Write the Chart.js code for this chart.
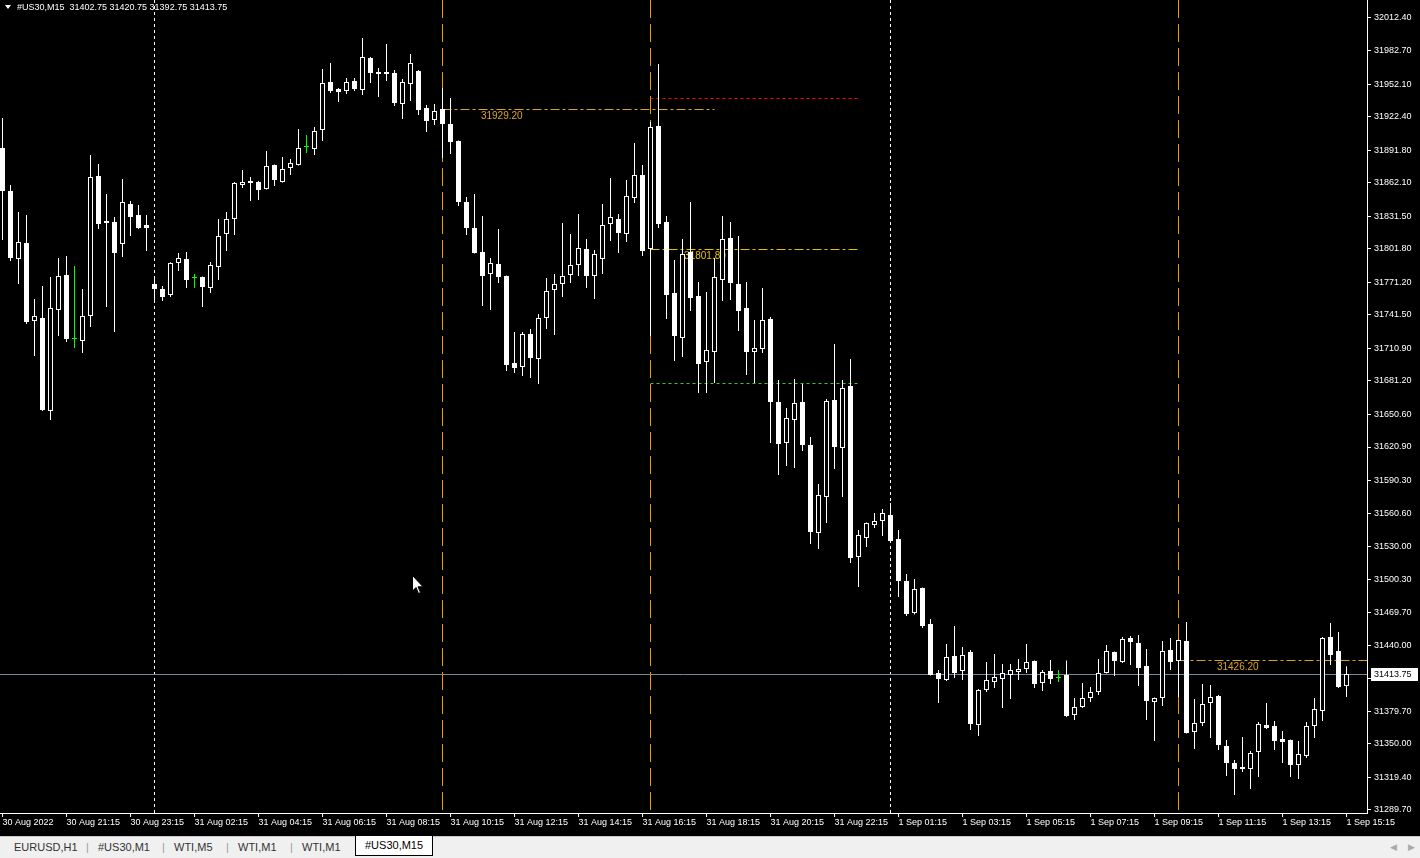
<!DOCTYPE html>
<html>
<head>
<meta charset="utf-8">
<title>#US30,M15</title>
<script src="https://cdn.jsdelivr.net/npm/chart.js@4.4.0/dist/chart.umd.min.js"></script>
<style>
  html, body { margin:0; padding:0; width:1420px; height:858px; overflow:hidden; background:#000;
    font-family:"Liberation Sans", Arial, sans-serif; }
  #wrap { position:relative; width:1420px; height:836px; background:#000; }
  #header { position:absolute; left:5px; top:2px; color:#fff; font-size:9px; line-height:11px; white-space:pre; pointer-events:none; }
  #header .tri { display:inline-block; width:0; height:0; border-left:3px solid transparent; border-right:3px solid transparent;
    border-top:4px solid #fff; margin-right:6px; vertical-align:1px; }
  #cursor { position:absolute; left:412px; top:575px; }
  #tabs { position:absolute; left:0; top:836px; width:1420px; height:22px; background:#f0f0f0; border-top:1px solid #c8c8c8;
    font-size:11px; color:#333; }
  #tabs span { position:absolute; top:4px; }
  #tabs .sep { color:#999; }
  #tabs .active { top:-1px; height:19px; line-height:19px; padding:0 9px; background:#fff; border:1px solid #000; border-top:none; color:#000; }
  #tabs .arr { color:#aaa; font-size:9px; top:5px; }
</style>
</head>
<body>
<div id="wrap">
  <canvas id="chart"></canvas>
  <div id="header"><span class="tri"></span>#US30,M15  31402.75 31420.75 31392.75 31413.75</div>
  <svg id="cursor" width="12" height="20" viewBox="0 0 12 20">
    <path d="M0.5 0.5 L0.5 16 L4 12.5 L6.5 18.5 L8.5 17.5 L6 11.8 L11 11.8 Z" fill="#fff" stroke="#000" stroke-width="1"/>
  </svg>
</div>
<div id="tabs">
  <span style="left:14px">EURUSD,H1</span><span class="sep" style="left:86px">|</span>
  <span style="left:98px">#US30,M1</span><span class="sep" style="left:162px">|</span>
  <span style="left:174px">WTI,M5</span><span class="sep" style="left:226px">|</span>
  <span style="left:238px">WTI,M1</span><span class="sep" style="left:290px">|</span>
  <span style="left:302px">WTI,M1</span>
  <span class="active" style="left:355px">#US30,M15</span>
  <span class="arr" style="left:1390px">&#9664;</span><span class="arr" style="left:1408px">&#9654;</span>
</div>

<script>
// M15 candles, 30 Aug 2022 19:15 .. 1 Sep 2022 15:15
const opens = [
  31893.8, 31854.5, 31792.5, 31807.1, 31735.9, 31738.6, 31653.8, 31745.9, 31777.9, 31719.5,
  31717.6, 31740.5, 31868.2, 31827.1, 31826.2, 31806.2, 31842.7, 31832.6, 31823.5, 31769.7,
  31765.1, 31759.6, 31788.8, 31792.5, 31775.1, 31776.0, 31766.0, 31785.2, 31815.3, 31829.0,
  31860.0, 31861.8, 31862.7, 31856.3, 31878.2, 31862.7, 31875.5, 31878.2, 31894.7, 31892.8,
  31910.2, 31954.0, 31947.6, 31945.8, 31954.9, 31946.7, 31975.9, 31963.1, 31963.1, 31962.2,
  31933.9, 31952.2, 31964.0, 31930.3, 31919.3, 31929.3, 31915.6, 31900.1, 31844.5, 31820.8,
  31798.9, 31778.8, 31787.9, 31777.0, 31697.6, 31693.9, 31724.0, 31701.2, 31738.6, 31764.2,
  31769.7, 31777.9, 31787.0, 31801.6, 31777.0, 31792.5, 31824.4, 31829.0, 31815.3, 31848.1,
  31869.1, 31801.6, 31913.8, 31826.2, 31761.4, 31720.4, 31798.9, 31758.7, 31698.5, 31707.6,
  31773.3, 31811.6, 31769.7, 31747.8, 31707.6, 31710.3, 31737.7, 31662.0, 31624.6, 31645.6,
  31662.0, 31622.7, 31542.4, 31575.3, 31663.8, 31620.0, 31676.6, 31520.5, 31537.9, 31549.7,
  31553.4, 31558.9, 31537.0, 31498.6, 31469.4, 31492.3, 31459.4, 31414.7, 31408.3, 31430.2,
  31416.5, 31433.9, 31367.2, 31399.2, 31406.5, 31409.2, 31412.9, 31415.6, 31418.3, 31425.6,
  31405.6, 31416.5, 31410.1, 31412.9, 31376.4, 31383.7, 31391.9, 31397.4, 31414.7, 31433.9,
  31424.7, 31446.6, 31442.1, 31421.1, 31388.2, 31391.9, 31435.7, 31425.6, 31443.9, 31360.9,
  31369.1, 31387.3, 31393.7, 31348.1, 31332.6, 31328.9, 31327.1, 31342.6, 31367.2, 31366.3,
  31354.5, 31353.6, 31330.7, 31339.0, 31366.3, 31380.0, 31447.5, 31434.8, 31402.75
];
const highs = [
  31921.1, 31860.0, 31835.4, 31832.6, 31756.0, 31767.8, 31776.0, 31793.4, 31795.2, 31786.1,
  31765.1, 31887.4, 31879.2, 31851.8, 31830.8, 31865.5, 31845.4, 31841.7, 31832.6, 31774.2,
  31767.8, 31789.5, 31797.9, 31798.9, 31778.8, 31776.5, 31789.7, 31829.0, 31835.4, 31862.7,
  31873.7, 31867.3, 31863.6, 31891.0, 31878.7, 31885.5, 31883.7, 31911.1, 31905.6, 31912.9,
  31965.8, 31971.3, 31948.5, 31957.6, 31957.6, 31994.1, 31976.8, 31966.8, 31988.6, 31964.9,
  31956.7, 31979.5, 31964.9, 31933.0, 31933.9, 31948.5, 31939.4, 31900.5, 31849.0, 31851.8,
  31831.7, 31793.4, 31819.8, 31777.5, 31725.9, 31725.9, 31728.6, 31742.3, 31775.1, 31778.8,
  31825.3, 31815.3, 31833.5, 31810.7, 31800.7, 31842.7, 31866.4, 31833.5, 31864.6, 31898.3,
  31878.2, 31917.5, 31970.4, 31831.7, 31791.6, 31810.7, 31844.5, 31771.5, 31762.4, 31793.4,
  31831.7, 31826.2, 31813.5, 31771.5, 31736.8, 31766.0, 31739.5, 31682.1, 31656.5, 31683.0,
  31678.4, 31630.0, 31587.2, 31664.7, 31714.9, 31682.1, 31701.2, 31545.2, 31552.0, 31560.7,
  31564.3, 31569.8, 31545.2, 31505.0, 31500.5, 31492.8, 31464.0, 31417.4, 31441.2, 31457.6,
  31438.4, 31435.7, 31400.1, 31424.7, 31432.0, 31422.9, 31422.9, 31427.5, 31441.2, 31426.1,
  31417.4, 31426.5, 31417.4, 31426.1, 31391.9, 31405.6, 31401.9, 31427.5, 31440.2, 31434.4,
  31447.5, 31448.5, 31449.4, 31436.6, 31392.4, 31443.9, 31446.6, 31445.3, 31461.2, 31391.0,
  31404.7, 31403.7, 31394.6, 31353.6, 31335.3, 31356.3, 31343.5, 31370.0, 31387.3, 31370.9,
  31361.8, 31354.1, 31352.6, 31370.0, 31391.9, 31447.5, 31460.3, 31452.1, 31420.75
];
const lows = [
  31809.8, 31790.6, 31769.7, 31733.2, 31704.0, 31653.8, 31645.6, 31722.2, 31716.7, 31711.3,
  31706.7, 31730.4, 31819.8, 31748.7, 31725.9, 31794.3, 31813.5, 31819.8, 31799.8, 31753.2,
  31754.1, 31757.8, 31781.5, 31766.0, 31766.0, 31748.7, 31761.4, 31773.3, 31799.8, 31814.4,
  31857.3, 31845.4, 31846.3, 31855.8, 31859.1, 31862.2, 31869.1, 31877.7, 31889.2, 31887.4,
  31900.1, 31943.9, 31935.7, 31943.0, 31945.8, 31942.1, 31953.1, 31940.3, 31954.9, 31932.1,
  31920.2, 31936.6, 31923.9, 31908.4, 31914.7, 31884.6, 31888.3, 31840.8, 31814.4, 31797.4,
  31749.6, 31745.9, 31770.6, 31690.3, 31688.4, 31685.7, 31683.9, 31678.4, 31728.6, 31723.1,
  31757.8, 31770.6, 31777.0, 31766.0, 31756.0, 31778.8, 31808.9, 31797.9, 31808.0, 31843.6,
  31795.2, 31722.2, 31820.8, 31737.7, 31699.4, 31703.0, 31745.0, 31670.2, 31670.2, 31679.3,
  31754.1, 31755.1, 31726.8, 31686.6, 31679.3, 31706.7, 31624.6, 31595.4, 31603.6, 31601.8,
  31617.3, 31532.4, 31527.8, 31551.6, 31600.8, 31575.3, 31515.1, 31493.2, 31529.7, 31547.0,
  31539.7, 31534.6, 31484.0, 31466.7, 31468.0, 31455.8, 31412.4, 31387.3, 31407.4, 31410.1,
  31408.3, 31362.7, 31357.2, 31397.4, 31401.0, 31382.8, 31391.0, 31408.3, 31414.7, 31401.0,
  31398.3, 31404.7, 31406.5, 31374.5, 31371.8, 31382.8, 31388.2, 31394.6, 31414.2, 31412.0,
  31423.8, 31422.0, 31402.8, 31371.8, 31352.6, 31384.6, 31417.4, 31392.8, 31359.4, 31345.3,
  31366.3, 31355.4, 31344.4, 31320.7, 31303.4, 31324.4, 31308.8, 31319.8, 31363.6, 31344.4,
  31332.6, 31319.8, 31318.0, 31337.1, 31355.4, 31370.9, 31422.0, 31401.0, 31392.75
];
const closes = [
  31854.5, 31793.4, 31808.0, 31735.0, 31740.5, 31654.7, 31747.8, 31777.0, 31719.5, 31719.5,
  31740.5, 31867.3, 31824.4, 31825.3, 31797.9, 31844.5, 31830.8, 31820.8, 31820.8, 31765.1,
  31757.8, 31788.8, 31793.4, 31773.3, 31775.1, 31766.9, 31787.0, 31813.5, 31829.0, 31861.8,
  31862.7, 31863.6, 31855.4, 31877.3, 31864.6, 31874.6, 31880.1, 31893.8, 31894.7, 31909.3,
  31953.1, 31945.8, 31944.9, 31954.0, 31947.6, 31976.8, 31962.2, 31961.3, 31961.3, 31934.8,
  31954.0, 31971.3, 31928.4, 31918.4, 31927.5, 31915.6, 31899.2, 31844.5, 31820.8, 31797.9,
  31777.0, 31788.8, 31776.0, 31695.7, 31693.0, 31724.0, 31702.1, 31738.6, 31763.3, 31769.7,
  31777.0, 31787.0, 31802.5, 31777.0, 31797.0, 31823.5, 31830.8, 31816.2, 31850.0, 31869.1,
  31799.8, 31912.9, 31824.4, 31759.6, 31722.2, 31797.0, 31756.9, 31696.7, 31709.4, 31776.0,
  31810.7, 31770.6, 31745.0, 31707.6, 31711.3, 31736.8, 31662.0, 31623.7, 31647.4, 31661.1,
  31622.7, 31543.4, 31577.1, 31662.9, 31620.9, 31674.8, 31519.6, 31540.6, 31551.6, 31553.4,
  31560.7, 31535.1, 31498.6, 31468.5, 31491.3, 31457.6, 31412.9, 31409.2, 31429.3, 31414.7,
  31431.1, 31368.2, 31399.2, 31408.3, 31411.0, 31414.7, 31417.4, 31418.3, 31424.7, 31404.7,
  31415.6, 31409.2, 31410.1, 31375.5, 31383.7, 31391.9, 31397.4, 31414.7, 31434.8, 31425.6,
  31445.7, 31443.0, 31419.3, 31389.1, 31391.9, 31434.8, 31424.7, 31444.8, 31359.9, 31369.1,
  31386.4, 31392.8, 31349.0, 31332.6, 31327.1, 31327.1, 31341.7, 31368.2, 31364.5, 31352.6,
  31351.7, 31330.7, 31340.8, 31366.3, 31381.8, 31446.6, 31431.1, 31401.9, 31413.75
];

// time labels, one every 8 bars
const xLabels = ['30 Aug 2022', '30 Aug 21:15', '30 Aug 23:15', '31 Aug 02:15', '31 Aug 04:15', '31 Aug 06:15',
  '31 Aug 08:15', '31 Aug 10:15', '31 Aug 12:15', '31 Aug 14:15', '31 Aug 16:15', '31 Aug 18:15',
  '31 Aug 20:15', '31 Aug 22:15', '1 Sep 01:15', '1 Sep 03:15', '1 Sep 05:15', '1 Sep 07:15',
  '1 Sep 09:15', '1 Sep 11:15', '1 Sep 13:15', '1 Sep 15:15'];
const xTickIdx = xLabels.map((_, i) => i * 8);

// price scale labels
const yTicks = [32012.40, 31982.70, 31952.10, 31922.40, 31891.80, 31862.10, 31831.50, 31801.80, 31771.20,
  31741.50, 31710.90, 31681.20, 31650.60, 31620.90, 31590.30, 31560.60, 31530.00, 31500.30, 31469.70,
  31440.00, 31409.40, 31379.70, 31350.00, 31319.40, 31289.70];

const priceMin = 31286.94, priceMax = 32028.80;

// objects on the chart (bar index / price)
const vLines = [
  { k: 19, color: '#ffffff', dash: [3, 3] },
  { k: 55, color: '#e8a000', dash: [18, 6] },
  { k: 81, color: '#e8a000', dash: [18, 6] },
  { k: 111, color: '#ffffff', dash: [3, 3] },
  { k: 147, color: '#e8a000', dash: [18, 6] }
];
const hLines = [
  { price: 31929.20, from: 55, to: 89, color: '#daa520', dash: [9, 3, 3, 3], label: '31929.20', labelAt: 59.8 },
  { price: 31939.40, from: 81, to: 107, color: '#ff0000', dash: [3, 3] },
  { price: 31801.80, from: 81, to: 107, color: '#e8c000', dash: [9, 3, 3, 3], label: '31801.80', labelAt: 85.2 },
  { price: 31679.30, from: 81, to: 107, color: '#32cd32', dash: [3, 3] },
  { price: 31426.20, from: 147, to: 171, color: '#daa520', dash: [9, 3, 3, 3], label: '31426.20', labelAt: 151.8 }
];

const GREEN = '#00ff00';
const idx = opens.map((_, i) => i);
const doji = i => opens[i] === closes[i];
const bull = i => closes[i] > opens[i];

const fmt = v => v.toFixed(2);

// chart objects, drawn behind the candles; bid label on top
const overlay = {
  id: 'overlay',
  beforeDatasetsDraw(chart) {
    const { ctx, chartArea: a, scales: { x, y } } = chart;
    ctx.save();
    ctx.beginPath();
    ctx.rect(a.left, a.top, a.right - a.left, a.bottom - a.top);
    ctx.clip();
    ctx.lineWidth = 1;
    vLines.forEach(l => {
      const px = Math.floor(x.getPixelForValue(l.k)) + 0.5;
      ctx.strokeStyle = l.color;
      ctx.setLineDash(l.dash);
      ctx.beginPath(); ctx.moveTo(px, a.top); ctx.lineTo(px, a.bottom); ctx.stroke();
    });
    ctx.font = '10px "Liberation Sans", Arial, sans-serif';
    ctx.textBaseline = 'top';
    hLines.forEach(l => {
      const py = Math.round(y.getPixelForValue(l.price)) + 0.5;
      const x0 = Math.floor(x.getPixelForValue(l.from)) + 0.5;
      const x1 = Math.min(a.right, x.getPixelForValue(l.to));
      ctx.strokeStyle = l.color;
      ctx.setLineDash(l.dash);
      ctx.beginPath(); ctx.moveTo(x0, py); ctx.lineTo(x1, py); ctx.stroke();
      if (l.label) {
        ctx.fillStyle = l.color;
        ctx.fillText(l.label, x.getPixelForValue(l.labelAt), py + 1.5);
      }
    });
    // bid line
    const last = closes[closes.length - 1];
    const by = Math.round(y.getPixelForValue(last)) + 0.5;
    ctx.setLineDash([]);
    ctx.strokeStyle = '#778899';
    ctx.beginPath(); ctx.moveTo(a.left, by); ctx.lineTo(a.right, by); ctx.stroke();
    ctx.restore();
  },
  afterDraw(chart) {
    const { ctx, chartArea: a, scales: { y } } = chart;
    const last = closes[closes.length - 1];
    const by = Math.round(y.getPixelForValue(last));
    ctx.save();
    ctx.fillStyle = '#fff';
    ctx.fillRect(a.right + 4, by - 6, 47, 13);
    ctx.fillStyle = '#000';
    ctx.font = '9px "Liberation Sans", Arial, sans-serif';
    ctx.textBaseline = 'middle';
    ctx.fillText(fmt(last), a.right + 7, by + 0.5);
    ctx.restore();
  }
};

Chart.defaults.font.family = '"Liberation Sans", Arial, sans-serif';
Chart.defaults.font.size = 9;
Chart.defaults.color = '#fff';

const ctx = document.getElementById('chart').getContext('2d');
new Chart(ctx, {
  type: 'bar',
  data: {
    datasets: [
      {
        label: 'body',
        order: 1,
        data: idx.map(i => ({ x: i, y: [opens[i], closes[i]] })),
        barThickness: 5,
        minBarLength: 1,
        grouped: false,
        inflateAmount: 0,
        borderSkipped: false,
        borderWidth: 1,
        backgroundColor: idx.map(i => doji(i) ? GREEN : (bull(i) ? '#000' : '#fff')),
        borderColor: idx.map(i => doji(i) ? GREEN : '#fff')
      },
      {
        label: 'wick',
        order: 2,
        data: idx.map(i => ({ x: i, y: [lows[i], highs[i]] })),
        barThickness: 1,
        grouped: false,
        inflateAmount: 0,
        borderWidth: 0,
        backgroundColor: idx.map(i => doji(i) ? GREEN : '#fff')
      }
    ]
  },
  options: {
    responsive: true,
    maintainAspectRatio: false,
    animation: false,
    events: [],
    layout: { padding: 0 },
    plugins: { legend: { display: false }, tooltip: { enabled: false } },
    scales: {
      x: {
        type: 'linear',
        offset: false,
        min: -0.3125,
        max: 170.5625,
        bounds: 'data',
        grid: { display: true, offset: false, drawOnChartArea: false, color: '#fff', tickLength: 4, tickWidth: 1 },
        border: { display: true, color: '#fff', width: 1 },
        ticks: { autoSkip: false, maxRotation: 0, align: 'start', padding: 0, color: '#fff',
          callback: v => xLabels[xTickIdx.indexOf(v)] },
        afterBuildTicks: s => { s.ticks = xTickIdx.map(v => ({ value: v })); },
        afterFit: s => { s.height = 23; s.paddingLeft = 0; s.paddingRight = 0; }
      },
      y: {
        type: 'linear',
        position: 'right',
        min: priceMin,
        max: priceMax,
        bounds: 'data',
        grid: { display: true, drawOnChartArea: false, color: '#fff', tickLength: 4, tickWidth: 1 },
        border: { display: true, color: '#fff', width: 1 },
        ticks: { autoSkip: false, padding: 3, color: '#fff', callback: v => fmt(v) },
        afterBuildTicks: s => { s.ticks = yTicks.map(v => ({ value: v })); },
        afterFit: s => { s.width = 53; s.paddingTop = 0; s.paddingBottom = 0; }
      }
    }
  },
  plugins: [overlay]
});
</script>
</body>
</html>
